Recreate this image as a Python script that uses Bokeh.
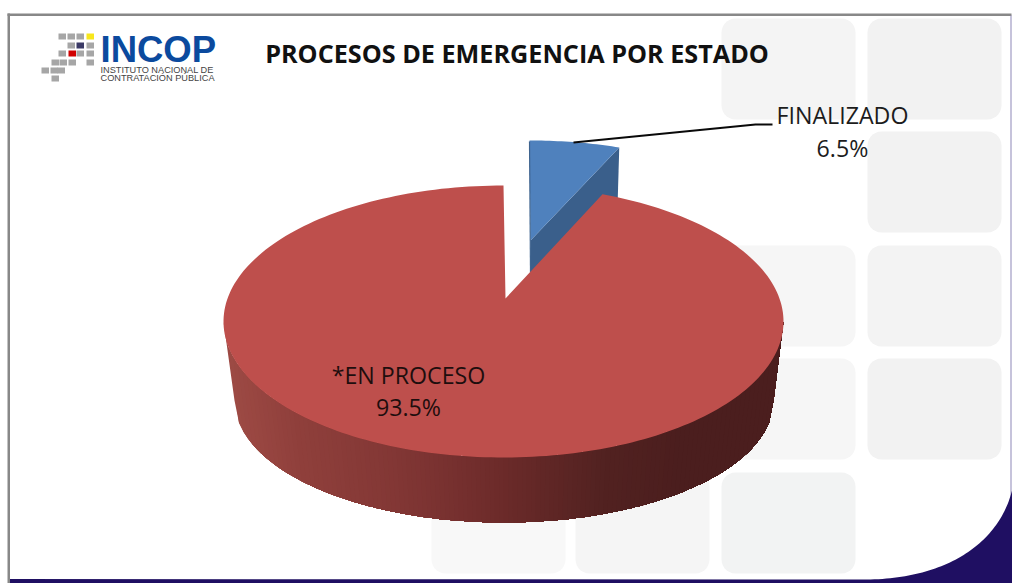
import numpy as np
from bokeh.plotting import figure
from bokeh.core.properties import value
from bokeh.embed import file_html
from bokeh.resources import INLINE

# ---- chart content
categories = ["*EN PROCESO", "FINALIZADO"]
shares = [93.5, 6.5]
slice_top = ["#BE4F4C", "#4F81BD"]
blue_side = "#3A5F8B"
title = "PROCESOS DE EMERGENCIA POR ESTADO"
logo_name = "INCOP"
logo_sub = ["INSTITUTO NACIONAL DE", "CONTRATACIÓN PÚBLICA"]

# ---- page coordinates: data units equal reference pixels
W, H = 1012, 583
p = figure(width=W, height=H, x_range=(0, W), y_range=(H, 0),
           output_backend="svg", toolbar_location=None, min_border=0,
           x_axis_type="linear", background_fill_color="white",
           border_fill_color="white", outline_line_color=None)
p.axis.visible = False
p.grid.visible = False

# ---- decorative tiles
tile_cols = [431, 575, 721, 867]
tile_rows = [18, 131, 245, 358, 472]
tiles = [(2, 0, "#F4F4F4"), (3, 0, "#F2F2F2"), (3, 1, "#F2F2F2"), (2, 2, "#F6F6F6"),
         (3, 2, "#F3F3F3"), (2, 3, "#F6F6F6"), (3, 3, "#F2F2F2"),
         (0, 4, "#F8F8F8"), (1, 4, "#F5F5F5"), (2, 4, "#F2F3F3")]

def rounded(x0, y0, w, h, r=14):
    a = np.linspace(0, np.pi / 2, 8)
    xs = np.concatenate([x0 + r - r * np.cos(a), x0 + w - r + r * np.sin(a),
                         x0 + w - r + r * np.cos(a), x0 + r - r * np.sin(a)])
    ys = np.concatenate([y0 + r - r * np.sin(a), y0 + r - r * np.cos(a),
                         y0 + h - r + r * np.sin(a), y0 + h - r + r * np.cos(a)])
    return list(xs), list(ys)

tx, ty, tc = [], [], []
for c, r, col in tiles:
    a, b = rounded(tile_cols[c], tile_rows[r], 134, 101)
    tx.append(a); ty.append(b); tc.append(col)
p.patches(tx, ty, fill_color=tc, line_color=None)

# ---- frame and navy corner
p.quad(left=[7], right=[9.5], top=[13], bottom=[H], fill_color="#888888", line_color=None)
p.quad(left=[7], right=[1011], top=[13], bottom=[15.5], fill_color="#888888", line_color=None)
p.quad(left=[1010], right=[1011], top=[15], bottom=[H], fill_color="#8E88B8", line_color=None)
t = np.linspace(0, 1, 60)
bx = (1-t)**3*870 + 3*(1-t)**2*t*950 + 3*(1-t)*t**2*1000 + t**3*1012
by = (1-t)**3*579 + 3*(1-t)**2*t*577 + 3*(1-t)*t**2*540 + t**3*488
p.patch(list(bx) + [W, W, 9.5, 9.5], list(by) + [488, H, H, 578.5],
        fill_color="#1F0F62", line_color=None)

# ---- pie geometry
gap = np.radians(shares[1] * 3.6)
tilt_gap = gap * 0.885          # foreshortened angle on the red rim
CX, CY, RX, RY = 503, 321, 280, 136     # red top rim
BX, BY, BRX, BRY = 503.5, 400, 269.5, 122   # red bottom rim

# blue slice, pulled out of the pie
bcx, bcy, brx, bry = 529, 225, 226, 85
bt = np.linspace(0, gap, 24)
barc_x = bcx + brx * np.sin(bt)
barc_y = bcy - bry * np.cos(bt)
tip_b = (530, 240)
p.patch([tip_b[0], barc_x[-1], barc_x[-1] - 2, 530],
        [tip_b[1], barc_y[-1], barc_y[-1] + 68, 288],
        fill_color=blue_side, line_color=None)
p.patch([tip_b[0]] + list(barc_x), [tip_b[1]] + list(barc_y),
        fill_color=slice_top[1], line_color=None)
p.line([529, 530], [141, 272], line_color="#3F648F", line_width=1.2)

# red side wall, shaded left to right: each band paints over the rest
stops_x = [233, 300, 400, 500, 600, 680, 783]
stops_r = [0x9E, 0x90, 0x82, 0x6C, 0x52, 0x4B, 0x4B]
stops_g = [0x4B, 0x40, 0x37, 0x2B, 0x22, 0x1E, 0x1E]
stops_b = [0x45, 0x3C, 0x35, 0x2A, 0x21, 0x1E, 0x1E]
ph = np.arccos(np.linspace(-1, 1, 121))
sx, sy, sc = [], [], []
for i in range(len(ph) - 1):
    rest = ph[i:]
    xa = list(CX + RX*np.cos(rest)) + list(BX + BRX*np.cos(rest[::-1]))
    ya = list(CY + RY*np.sin(rest)) + list(BY + BRY*np.sin(rest[::-1]))
    mx = BX + BRX*np.cos(ph[i])
    col = "#%02X%02X%02X" % (int(np.interp(mx, stops_x, stops_r)),
                             int(np.interp(mx, stops_x, stops_g)),
                             int(np.interp(mx, stops_x, stops_b)))
    sx.append(xa); sy.append(ya); sc.append(col)
p.patches(sx, sy, fill_color=sc, line_color=None)

# red top face
rt = np.linspace(tilt_gap, 2 * np.pi, 240)
p.patch([505] + list(CX + RX * np.sin(rt)), [298] + list(CY - RY * np.cos(rt)),
        fill_color=slice_top[0], line_color=None)

# ---- leader line and labels
p.line([573, 755, 772], [142, 124, 124], line_color="#0A0A0A", line_width=2)
F = value("Open Sans")
def lab(x, y, s, size, color="#1C1C1C", font=F, style="normal", align="center"):
    p.text([x], [y], text=[s], text_font=font, text_font_size=size, text_color=color,
           text_align=align, text_baseline="middle", text_font_style=style)
lab(842, 114.5, categories[1], "23.2px")
lab(842, 147.5, f"{shares[1]:.1f}%", "23.2px")
lab(408, 374, categories[0], "23.2px", color="#1E0E0E")
lab(408, 406.5, f"{shares[0]:.1f}%", "23.2px", color="#1E0E0E")
lab(516.5, 52, title, "25.2px", color="#111111", style="bold")

# ---- logo
cells = [(58, 33, "#A6A6A6"), (67, 33, "#A6A6A6"), (76, 33, "#A6A6A6"), (86, 33, "#F8E71C"),
         (67, 42, "#A6A6A6"), (76, 42, "#3B3A66"), (86, 42, "#A6A6A6"),
         (58, 50, "#A6A6A6"), (68, 50, "#D00000"), (76, 50, "#A6A6A6"), (86, 50, "#A6A6A6"),
         (51, 59, "#A6A6A6"), (59, 59, "#A6A6A6"), (68, 59, "#A6A6A6"), (86, 59, "#A6A6A6"),
         (41, 67, "#A6A6A6"), (50, 67, "#A6A6A6"), (57, 67, "#A6A6A6"), (51, 75, "#A6A6A6")]
cx = [c[0] for c in cells]; cy = [c[1] for c in cells]; cc = [c[2] for c in cells]
p.quad(left=cx, right=[x + 7.5 for x in cx], top=cy, bottom=[y + 6 for y in cy],
       fill_color=cc, line_color=None)
L = value("Liberation Sans")
lab(100, 49, logo_name, "36.5px", color="#0B4A9E", font=L, style="bold", align="left")
lab(100, 69, logo_sub[0], "9.2px", color="#444444", font=L, align="left")
lab(100, 77, logo_sub[1], "9.2px", color="#444444", font=L, align="left")

open("out.html", "w").write(file_html(p, INLINE))
